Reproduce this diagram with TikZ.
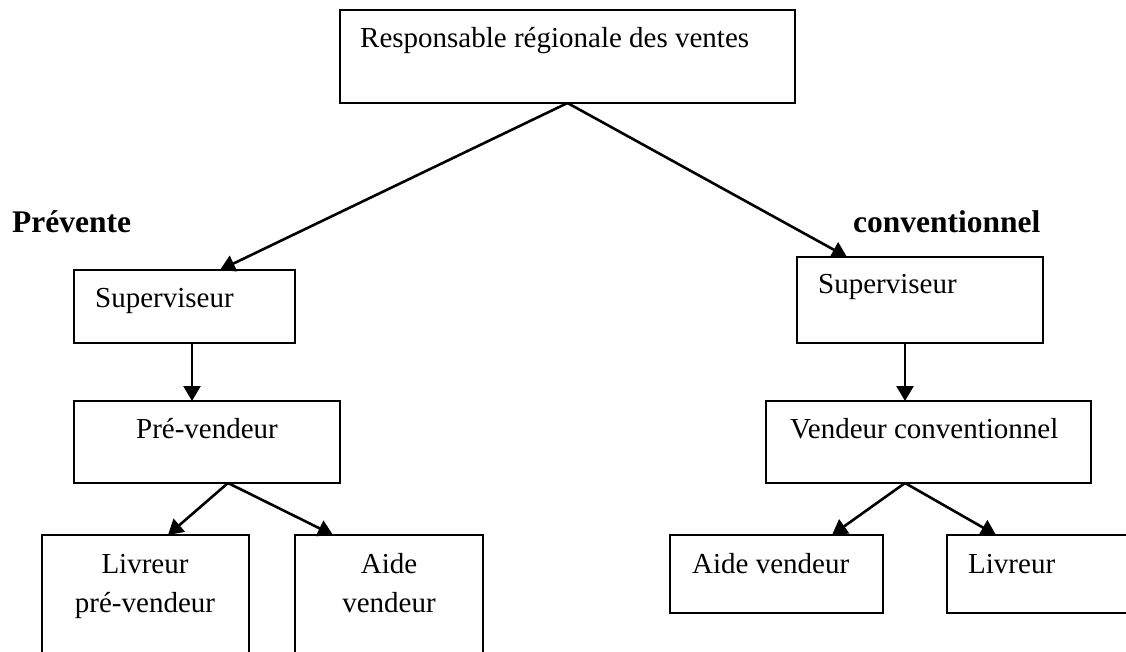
\documentclass[tikz,border=0pt]{standalone}
\usepackage{fontspec}
\setmainfont{Liberation Serif}
\usetikzlibrary{arrows.meta}
\begin{document}
\begin{tikzpicture}[x=1pt,y=-1pt,
  box/.style={draw, line width=2.4pt, rectangle, outer sep=0pt, inner sep=0pt, anchor=north west},
  txt/.style={inner sep=0pt, font=\fontsize{29}{34}\selectfont},
  head/.style={inner sep=0pt, font=\fontsize{31.5}{36}\selectfont\bfseries},
  link/.style={line width=2.6pt, -{Triangle[length=15pt,width=17pt]}}]
\useasboundingbox (0,0) rectangle (1126,652);
\clip (0,0) rectangle (1126,652);

% boxes
\node[box, minimum width=455pt, minimum height=93pt] (top) at (340,10) {};
\node[box, minimum width=221pt, minimum height=73pt] (supL) at (74,270) {};
\node[box, minimum width=246pt, minimum height=86pt] (supR) at (797,257) {};
\node[box, minimum width=266pt, minimum height=82pt] (preV) at (74,401) {};
\node[box, minimum width=325pt, minimum height=82pt] (venC) at (766,401) {};
\node[box, minimum width=207pt, minimum height=145pt] (livP) at (42,535) {};
\node[box, minimum width=188pt, minimum height=145pt] (aideP) at (295,535) {};
\node[box, minimum width=213pt, minimum height=78pt] (aideC) at (670,535) {};
\node[box, minimum width=213pt, minimum height=78pt] (livC) at (947,535) {};

% texts
\node[txt, anchor=base west] (tTop) at (360,48) {Responsable régionale des ventes};
\node[head, anchor=base west] (tPre) at (12,233) {Prévente};
\node[head, anchor=base west] (tConv) at (853,233) {conventionnel};
\node[txt, anchor=base west] (tSupL) at (95,307) {Superviseur};
\node[txt, anchor=base west] (tSupR) at (818,293) {Superviseur};
\node[txt, anchor=base] (tPreV) at (207,438) {Pré-vendeur};
\node[txt, anchor=base west] (tVenC) at (790,438) {Vendeur conventionnel};
\node[txt, anchor=base] (tLivP1) at (145,573) {Livreur};
\node[txt, anchor=base] (tLivP2) at (145,612) {pré-vendeur};
\node[txt, anchor=base] (tAideP1) at (389,573) {Aide};
\node[txt, anchor=base] (tAideP2) at (389,612) {vendeur};
\node[txt, anchor=base west] (tAideC) at (692,573) {Aide vendeur};
\node[txt, anchor=base west] (tLivC) at (968,573) {Livreur};

% connectors
\draw[link] (top.south) -- ([xshift=146pt]supL.north west);
\draw[link] (top.south) -- ([xshift=50pt]supR.north west);
\draw[link] ([xshift=118pt]supL.south west) -- ([xshift=118pt]preV.north west);
\draw[link] ([xshift=108pt]supR.south west) -- ([xshift=139pt]venC.north west);
\draw[link] ([xshift=154pt]preV.south west) -- ([xshift=126pt]livP.north west);
\draw[link] ([xshift=154pt]preV.south west) -- ([xshift=38pt]aideP.north west);
\draw[link] ([xshift=139pt]venC.south west) -- ([xshift=162pt]aideC.north west);
\draw[link] ([xshift=139pt]venC.south west) -- ([xshift=49pt]livC.north west);
\end{tikzpicture}
\end{document}
